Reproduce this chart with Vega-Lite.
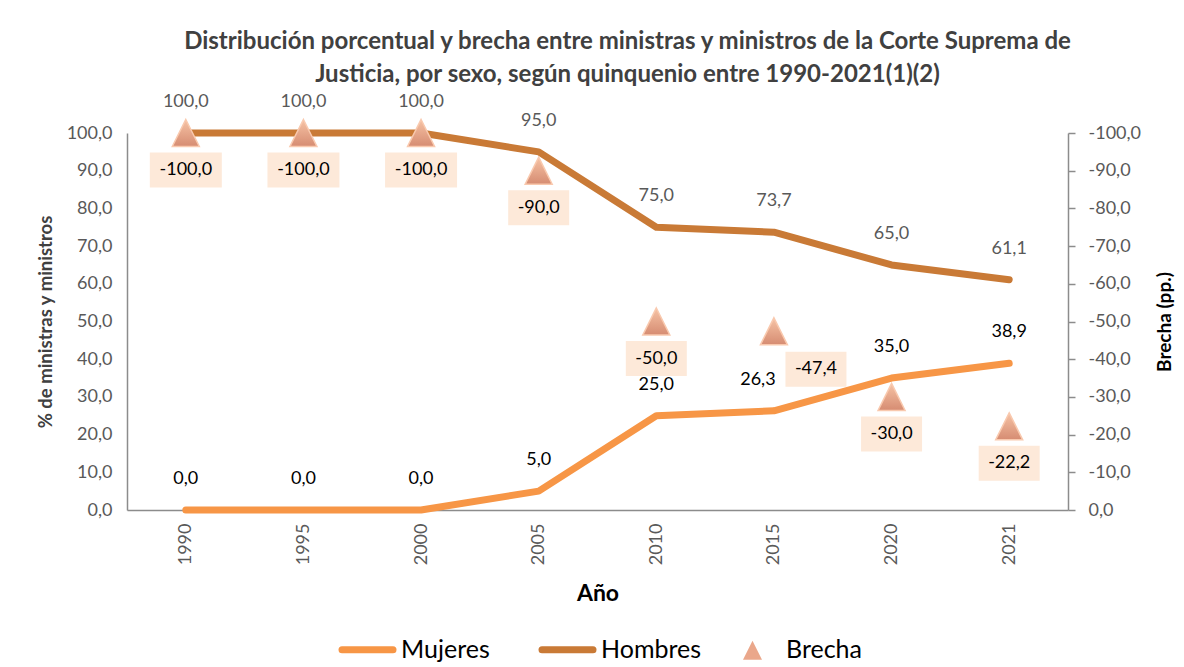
{
  "$schema": "https://vega.github.io/schema/vega-lite/v6.json",
  "width": 941,
  "height": 377,
  "autosize": {"type": "none"},
  "padding": {"left": 127, "top": 133, "right": 116, "bottom": 157},
  "background": "white",
  "config": {
    "locale": {"number": {"decimal": ",", "thousands": ".", "grouping": [3], "currency": ["", " €"], "minus": "-"}},
    "font": "Lato",
    "view": {"stroke": null},
    "axis": {"domainColor": "#8c8c8c", "domainWidth": 1.5, "grid": false, "labelFont": "Lato", "labelFontSize": 18, "labelColor": "#595959", "titleFont": "Lato", "titleFontWeight": "bold", "titleColor": "#404040", "titleFontSize": 18.5}
  },
  "title": {
    "text": ["Distribución porcentual y brecha entre ministras y ministros de la Corte Suprema de", "Justicia, por sexo, según quinquenio entre 1990-2021(1)(2)"],
    "font": "Lato", "fontSize": 24, "fontWeight": "bold", "color": "#404040", "lineHeight": 33, "anchor": "middle", "dx": 30, "offset": 6
  },
  "data": {"values": [
    {"anio": "1990", "serie": "Mujeres", "valor": 0},
    {"anio": "1995", "serie": "Mujeres", "valor": 0},
    {"anio": "2000", "serie": "Mujeres", "valor": 0},
    {"anio": "2005", "serie": "Mujeres", "valor": 5},
    {"anio": "2010", "serie": "Mujeres", "valor": 25},
    {"anio": "2015", "serie": "Mujeres", "valor": 26.3},
    {"anio": "2020", "serie": "Mujeres", "valor": 35},
    {"anio": "2021", "serie": "Mujeres", "valor": 38.9},
    {"anio": "1990", "serie": "Hombres", "valor": 100},
    {"anio": "1995", "serie": "Hombres", "valor": 100},
    {"anio": "2000", "serie": "Hombres", "valor": 100},
    {"anio": "2005", "serie": "Hombres", "valor": 95},
    {"anio": "2010", "serie": "Hombres", "valor": 75},
    {"anio": "2015", "serie": "Hombres", "valor": 73.7},
    {"anio": "2020", "serie": "Hombres", "valor": 65},
    {"anio": "2021", "serie": "Hombres", "valor": 61.1},
    {"anio": "1990", "serie": "Brecha", "valor": -100},
    {"anio": "1995", "serie": "Brecha", "valor": -100},
    {"anio": "2000", "serie": "Brecha", "valor": -100},
    {"anio": "2005", "serie": "Brecha", "valor": -90},
    {"anio": "2010", "serie": "Brecha", "valor": -50},
    {"anio": "2015", "serie": "Brecha", "valor": -47.4},
    {"anio": "2020", "serie": "Brecha", "valor": -30},
    {"anio": "2021", "serie": "Brecha", "valor": -22.2}
  ]},
  "encoding": {
    "x": {
      "field": "anio", "type": "ordinal",
      "scale": {"type": "point", "padding": 0.5},
      "axis": {"title": "Año", "labelAngle": -90, "ticks": false, "labelPadding": 13, "titleFontSize": 23, "titleColor": "#000000", "titlePadding": 18}
    }
  },
  "layer": [
    {
      "transform": [{"filter": "datum.serie !== 'Brecha'"}],
      "encoding": {
        "y": {
          "field": "valor", "type": "quantitative",
          "scale": {"domain": [0, 100], "nice": false},
          "axis": {"title": "% de ministras y ministros", "format": ".1f", "values": [0, 10, 20, 30, 40, 50, 60, 70, 80, 90, 100], "ticks": false, "labelPadding": 15, "titlePadding": 11}
        }
      },
      "layer": [
        {
          "mark": {"type": "line", "strokeWidth": 7, "strokeCap": "round", "strokeJoin": "round"},
          "encoding": {
            "color": {
              "field": "serie", "type": "nominal",
              "scale": {"domain": ["Mujeres", "Hombres", "Brecha"], "range": ["#f79646", "#c97a36", "#e8a184"]},
              "legend": {
                "title": null, "orient": "none", "legendX": 228, "legendY": 504, "direction": "horizontal",
                "padding": 0, "labelFont": "Lato", "labelFontSize": 25, "labelColor": "#000000", "labelOffset": 21,
                "columnPadding": 38, "symbolType": "stroke", "symbolSize": 2601, "symbolStrokeWidth": 7,
                "encode": {
                  "symbols": {
                    "update": {
                      "shape": {"signal": "datum.value === 'Brecha' ? 'M0,-1L1,1L-1,1Z' : 'stroke'"},
                      "size": {"signal": "datum.value === 'Brecha' ? 361 : 2601"},
                      "fill": {"signal": "datum.value === 'Brecha' ? '#eaa78b' : 'transparent'"},
                      "strokeWidth": {"signal": "datum.value === 'Brecha' ? 0 : 7"},
                      "strokeCap": {"value": "round"}
                    }
                  }
                }
              }
            }
          }
        },
        {
          "transform": [{"filter": "!(datum.serie === 'Mujeres' && datum.anio === '2015')"}],
          "mark": {"type": "text", "dy": -31, "fontSize": 18, "font": "Lato"},
          "encoding": {
            "text": {"field": "valor", "type": "quantitative", "format": ".1f"},
            "color": {"condition": {"test": "datum.serie === 'Hombres'", "value": "#595959"}, "value": "#000000"}
          }
        },
        {
          "transform": [{"filter": "datum.serie === 'Mujeres' && datum.anio === '2015'"}],
          "mark": {"type": "text", "dy": -31, "dx": -16, "fontSize": 18, "font": "Lato", "color": "#000000"},
          "encoding": {
            "text": {"field": "valor", "type": "quantitative", "format": ".1f"}
          }
        }
      ]
    },
    {
      "transform": [{"filter": "datum.serie === 'Brecha'"}],
      "encoding": {
        "y": {
          "field": "valor", "type": "quantitative",
          "scale": {"domain": [-100, 0], "reverse": true, "nice": false},
          "axis": {"orient": "right", "title": "Brecha (pp.)", "titleAngle": -90, "titleColor": "#000000", "titleFontSize": 19, "format": ".1f", "values": [0, -10, -20, -30, -40, -50, -60, -70, -80, -90, -100], "ticks": true, "tickSize": 7, "tickColor": "#8c8c8c", "tickWidth": 1.5, "labelPadding": 13, "titlePadding": 34}
        }
      },
      "layer": [
        {
          "mark": {
            "type": "point", "shape": "M0,-1L1,1L-1,1Z", "size": 729, "opacity": 1, "filled": true,
            "fill": {"gradient": "linear", "x1": 0, "y1": 0, "x2": 0, "y2": 1, "stops": [{"offset": 0, "color": "#f6c3a5"}, {"offset": 1, "color": "#d68c72"}]},
            "stroke": "#f9c9ae", "strokeWidth": 1.5
          }
        },
        {
          "transform": [{"filter": "datum.anio !== '2015'"}],
          "layer": [
            {
              "mark": {"type": "point", "filled": true, "opacity": 1, "fill": "#fde9d9", "strokeWidth": 0, "yOffset": 37},
              "encoding": {
                "shape": {"condition": {"test": "datum.valor <= -100", "value": "M-1,-0.486L1,-0.486L1,0.486L-1,0.486Z"}, "value": "M-1,-0.574L1,-0.574L1,0.574L-1,0.574Z"},
                "size": {"condition": {"test": "datum.valor <= -100", "value": 5184}, "value": 3721}
              }
            },
            {
              "mark": {"type": "text", "dy": 37, "fontSize": 18, "font": "Lato", "color": "#000000"},
              "encoding": {"text": {"field": "valor", "type": "quantitative", "format": ".1f"}}
            }
          ]
        },
        {
          "transform": [{"filter": "datum.anio === '2015'"}],
          "layer": [
            {
              "mark": {"type": "point", "filled": true, "opacity": 1, "fill": "#fde9d9", "strokeWidth": 0, "xOffset": 42, "yOffset": 38, "shape": "M-1,-0.574L1,-0.574L1,0.574L-1,0.574Z", "size": 3721}
            },
            {
              "mark": {"type": "text", "dx": 42, "dy": 38, "fontSize": 18, "font": "Lato", "color": "#000000"},
              "encoding": {"text": {"field": "valor", "type": "quantitative", "format": ".1f"}}
            }
          ]
        }
      ]
    }
  ],
  "resolve": {"scale": {"y": "independent"}}
}
